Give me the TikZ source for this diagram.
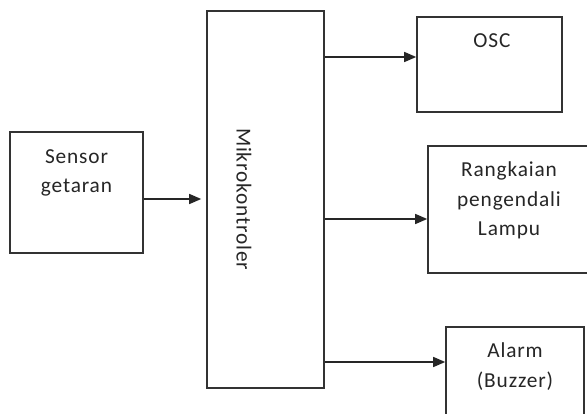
\documentclass[tikz,border=0pt]{standalone}
\usepackage{fontspec}
\setmainfont{Carlito}[LetterSpace=4]
\usetikzlibrary{arrows.meta}
\begin{document}
\begin{tikzpicture}[x=0.75pt,y=-0.75pt,
  box/.style={draw=black!80, line width=1.2pt, inner sep=0pt},
  lbl/.style={anchor=base, inner sep=0pt, text=black!85, font=\fontsize{16}{19}\selectfont},
  arr/.style={draw=black!85, line width=1.1pt, -{Triangle[length=9pt,width=7.5pt]}}]
\useasboundingbox (0,0) rectangle (587,414);
\clip (0,0) rectangle (587,414);
\fill[white] (0,0) rectangle (587,414);

\node[box, minimum width=99.75pt, minimum height=90.75pt] (sensor) at (76.5,192.5) {};
\node[box, minimum width=87.75pt, minimum height=282.75pt] (mikro) at (265.5,199.5) {};
\node[box, minimum width=108.75pt, minimum height=71.25pt] (osc) at (489.5,64.5) {};
\node[box, minimum width=123pt, minimum height=95.25pt] (lampu) at (510,209.5) {};
\node[box, minimum width=103.5pt, minimum height=69.75pt] (alarm) at (515,373.5) {};

\node[lbl] (t1) at (76.5,163) {Sensor};
\node[lbl] (t2) at (76.5,192) {getaran};
\node[lbl] (t3) at (492,47) {OSC};
\node[lbl] (t4) at (509,176) {Rangkaian};
\node[lbl] (t5) at (509,206) {pengendali};
\node[lbl] (t6) at (509,235) {Lampu};
\node[lbl] (t7) at (515,357) {Alarm};
\node[lbl] (t8) at (515,387) {(Buzzer)};
\node[lbl, anchor=center, rotate=-90] (t9) at (244,199) {Mikrokontroler};

\coordinate (y1) at (0,199);
\coordinate (y2) at (0,57);
\coordinate (y3) at (0,219);
\coordinate (y4) at (0,362);

\draw[arr, shorten >=3.75pt] (sensor.east |- y1) -- (mikro.west |- y1);
\draw[arr] (mikro.east |- y2) -- (osc.west |- y2);
\draw[arr] (mikro.east |- y3) -- (lampu.west |- y3);
\draw[arr] (mikro.east |- y4) -- (alarm.west |- y4);
\end{tikzpicture}
\end{document}
